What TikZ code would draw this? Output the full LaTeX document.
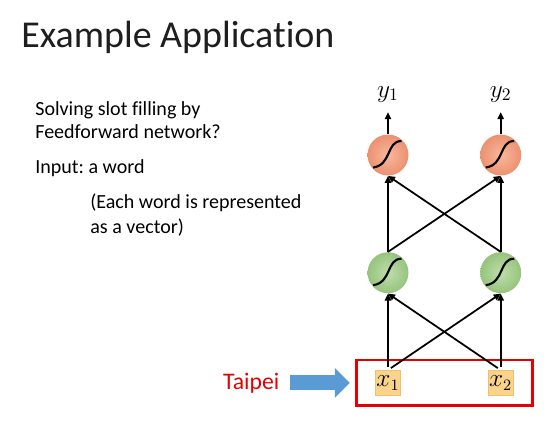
\documentclass[tikz,border=0pt]{standalone}
\usepackage{fontspec}
\setmainfont{Carlito}[Ligatures={NoCommon}]
\usetikzlibrary{positioning,arrows.meta,fit}
\definecolor{TitleText}{RGB}{30,30,30}
\definecolor{OutIn}{RGB}{247,184,156}
\definecolor{OutOut}{RGB}{236,145,112}
\definecolor{HidIn}{RGB}{190,222,170}
\definecolor{HidOut}{RGB}{150,195,125}
\definecolor{InFill}{RGB}{251,212,140}
\definecolor{InDraw}{RGB}{244,190,110}
\definecolor{WordRed}{RGB}{230,0,0}
\definecolor{ArrowBlue}{RGB}{91,155,213}
\frenchspacing

\begin{document}
\begin{tikzpicture}[
    txt/.style={anchor=base west, inner sep=0pt, font=\fontsize{11.4}{13}\selectfont},
    neuron/.style={circle, minimum size=0.82cm, inner sep=0pt},
    outn/.style={neuron, inner color=OutIn, outer color=OutOut},
    hidn/.style={neuron, inner color=HidIn, outer color=HidOut},
    invec/.style={rectangle, fill=InFill, draw=InDraw, minimum size=0.5cm, inner sep=0pt, font=\fontsize{13.5}{15}\selectfont},
    lbl/.style={inner sep=1pt, font=\fontsize{14.5}{16}\selectfont},
    sig/.style={line width=1.2pt, black},
    arr/.style={-{Triangle[length=4pt,width=3.6pt]}, line width=1pt},
]
\useasboundingbox (0,0) rectangle (11.08,8.56);
\node[anchor=base west, inner sep=0pt, font=\fontsize{21.6}{24}\selectfont, text=TitleText] (title) at (0.42,7.62) {Example Application};
\node[txt] (ask1) at (0.70,6.26) {Solving slot filling by};
\node[txt] (ask2) at (0.70,5.80) {Feedforward network?};
\node[txt] (input) at (0.70,5.10) {Input: a word};
\node[txt] (note1) at (1.80,4.40) {(Each word is represented};
\node[txt] (note2) at (1.80,3.90) {as a vector)};

\node[outn] (o1) at (7.76,5.46) {};
\node[outn, right=1.42cm of o1] (o2) {};
\node[hidn, below=1.52cm of o1] (h1) {};
\node[hidn, below=1.52cm of o2] (h2) {};
\node[invec, below=1.53cm of h1] (x1) {$x_1$};
\node[invec, below=1.53cm of h2] (x2) {$x_2$};
\node[lbl, above=0.6cm of o1] (y1) {$y_1$};
\node[lbl, above=0.6cm of o2] (y2) {$y_2$};
\node[draw=WordRed, line width=1.6pt, inner xsep=0.38cm, inner ysep=0.2cm, fit=(x1)(x2)] (word) {};
\node[inner sep=0pt, text=WordRed, font=\fontsize{13.5}{15}\selectfont, left=1.5cm of word] (taipei) {Taipei};

\foreach \n in {o1,o2,h1,h2}
    \draw[sig, shift={(\n)}] (-0.3,-0.25) .. controls (0.08,-0.2) and (-0.04,0.28) .. (0.27,0.28);

\draw[arr, shorten >=0.16cm] (o1.north) -- (y1.south);
\draw[arr, shorten >=0.16cm] (o2.north) -- (y2.south);
\foreach \a/\b in {h1/o1, h1/o2, h2/o1, h2/o2}
    \draw[arr] (\a.north) -- (\b.south);
\foreach \a/\b in {x1/h1, x1/h2, x2/h1, x2/h2}
    \draw[arr, shorten <=0.07cm] (\a.north) -- (\b.south);

\draw[line width=8.5pt, ArrowBlue, -{Triangle[length=8.5pt,width=16.4pt]}, shorten <=0.2cm, shorten >=0.1cm] (taipei) -- (word);
\end{tikzpicture}
\end{document}
